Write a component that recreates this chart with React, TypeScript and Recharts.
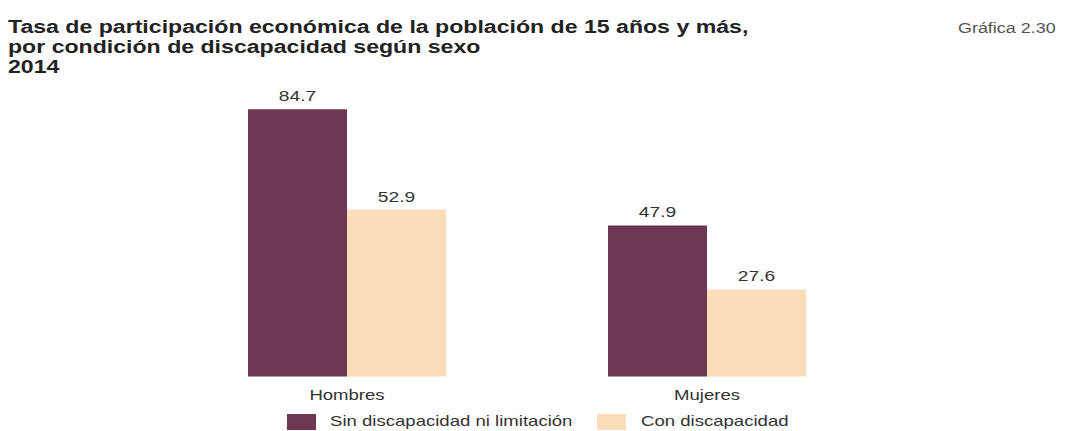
import React from "react";
import { BarChart, Bar, XAxis, YAxis, LabelList } from "recharts";

const categories = ["Hombres", "Mujeres"];
const sinDiscapacidad = [84.7, 47.9];
const conDiscapacidad = [52.9, 27.6];

const series = [
  { key: "sin", name: "Sin discapacidad ni limitación", color: "#6d3651" },
  { key: "con", name: "Con discapacidad", color: "#fcdcb9" },
];

const data = categories.map((c, i) => ({
  name: c,
  sin: sinDiscapacidad[i],
  con: conDiscapacidad[i],
}));

const font = "'Liberation Sans', Arial, sans-serif";
// the reference text is stretched sideways
const STRETCH = 1.28;

const CategoryTick = (props: any) => {
  const { x, y, payload } = props;
  return (
    <text
      transform={`translate(${x},${y + 15}) scale(${STRETCH},1)`}
      textAnchor="middle"
      fontSize={14.5}
      fill="#333"
      fontFamily={font}
    >
      {payload.value}
    </text>
  );
};

const ValueLabel = (props: any) => {
  const { x, y, width, value } = props;
  return (
    <text
      transform={`translate(${x + width / 2},${y - 8}) scale(${STRETCH},1)`}
      textAnchor="middle"
      fontSize={15}
      fill="#333"
      fontFamily={font}
    >
      {value}
    </text>
  );
};

const stretched = (origin: string): React.CSSProperties => ({
  transform: `scaleX(${STRETCH})`,
  transformOrigin: origin,
  whiteSpace: "nowrap",
});

export default function App() {
  const legendPos = [
    { box: 287, text: 330 },
    { box: 597, text: 641 },
  ];
  return (
    <div
      style={{
        position: "absolute",
        left: 0,
        top: 0,
        width: 1066,
        height: 431,
        background: "#fff",
        fontFamily: font,
        overflow: "hidden",
      }}
    >
      <div
        style={{
          position: "absolute",
          left: 8,
          top: 17,
          fontSize: 17.5,
          fontWeight: "bold",
          lineHeight: "20px",
          color: "#222",
          transform: "scaleX(1.32)",
          transformOrigin: "left top",
          whiteSpace: "nowrap",
        }}
      >
        Tasa de participación económica de la población de 15 años y más,
        <br />
        por condición de discapacidad según sexo
        <br />
        2014
      </div>
      <div
        style={{
          position: "absolute",
          left: 958,
          top: 20,
          fontSize: 14,
          color: "#555",
          ...stretched("left top"),
        }}
      >
        Gráfica 2.30
      </div>

      <div style={{ position: "absolute", left: 0, top: 0 }}>
        <BarChart
          width={1066}
          height={431}
          data={data}
          margin={{ top: 61, right: 179, bottom: 24.5, left: 167 }}
          barGap={0}
          barSize={99}
        >
          <XAxis
            dataKey="name"
            axisLine={false}
            tickLine={false}
            height={30}
            tick={<CategoryTick />}
          />
          <YAxis hide domain={[0, 100]} />
          {series.map((s) => (
            <Bar key={s.key} dataKey={s.key} name={s.name} fill={s.color} isAnimationActive={false}>
              <LabelList dataKey={s.key} content={<ValueLabel />} />
            </Bar>
          ))}
        </BarChart>
      </div>

      {series.map((s, i) => (
        <React.Fragment key={s.key}>
          <span
            style={{
              position: "absolute",
              left: legendPos[i].box,
              top: 414,
              width: 29,
              height: 16,
              background: s.color,
            }}
          />
          <span
            style={{
              position: "absolute",
              left: legendPos[i].text,
              top: 412,
              fontSize: 14.5,
              lineHeight: "19px",
              color: "#333",
              ...stretched("left center"),
            }}
          >
            {s.name}
          </span>
        </React.Fragment>
      ))}
    </div>
  );
}
